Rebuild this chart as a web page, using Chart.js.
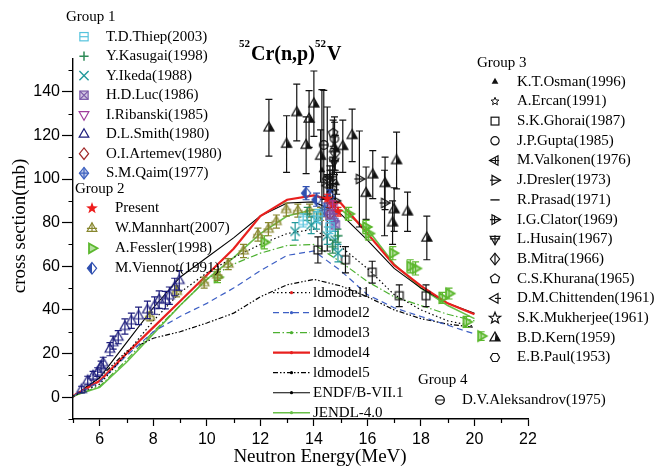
<!DOCTYPE html>
<html>
<head>
<meta charset="utf-8">
<script src="https://cdn.jsdelivr.net/npm/chart.js@4/dist/chart.umd.min.js"></script>
<style>
  html, body { margin: 0; padding: 0; background: #fff; }
</style>
</head>
<body>
<canvas id="chart" width="663" height="469"></canvas>
<script>
// ---- model curves (MeV -> mb) ----
const modelE   = [5, 6, 7, 8, 9, 10, 11, 12, 13, 14, 15, 16, 17, 18, 19, 20];
const ldmodel1 = [0.5, 6, 20, 35, 48, 57, 64, 70, 75, 77, 69, 59, 47, 40, 35, 32.5];
const ldmodel2 = [0.5, 7, 19, 30, 37, 43, 50, 58, 65, 67, 58, 47, 41, 37, 33, 29];
const ldmodel3 = [0.5, 5, 17, 30, 42, 54, 61, 66, 69.5, 70, 62, 53, 46, 42, 38, 35];
const ldmodel4 = [0.5, 7.5, 20, 32, 44, 56, 68, 83, 90.5, 92.5, 89, 75, 60.5, 51, 43, 38];
const ldmodel5 = [0.5, 9, 21, 27, 30, 34, 38.5, 46, 51.5, 54, 51, 46, 40, 36, 33.5, 32];
const endf     = [0, 9, 25, 41, 55, 64, 73, 83, 89, 89.5, 84, 72, 59, 50, 43, 38.5];
const jendl    = [0.5, 4.5, 16, 29, 42, 54, 64, 75, 83, 86, 86, 77, 61, 50, 42, 36];

// ---- measurements [E, sigma, error] ----
const thiep    = [[13.6, 81, 3], [14.15, 83, 3], [14.6, 78, 3]];
const kasugai  = [[13.75, 84, 3], [14.7, 69, 3], [14.9, 74, 3]];
const ikeda    = [[13.3, 76, 4], [13.9, 79, 4], [14.1, 81, 4], [14.5, 74, 4], [14.8, 72, 4], [14.9, 66, 4]];
const luc      = [[14.6, 83, 3], [14.8, 79, 3]];
const ribanski = [[14.7, 87, 3]];
const smith    = [[5.32, 3.5, 1.5], [5.55, 7.6, 2], [5.75, 9.8, 2], [5.92, 11.5, 2], [6.05, 14, 2.5], [6.13, 15.8, 2.5],
                  [6.38, 22, 3], [6.5, 25, 3], [6.69, 27.5, 3], [6.94, 32.4, 3.5], [7.18, 35, 3.5], [7.45, 37.3, 4],
                  [7.78, 40, 4], [8.05, 42, 4], [8.22, 44.7, 4], [8.45, 44.5, 4], [8.6, 46.5, 4], [8.8, 50.5, 4], [8.97, 53.5, 4.5]];
const artemev  = [[14.6, 84, 3]];
const qaim     = [[14.4, 86, 3], [14.75, 81, 3]];
const present  = [[14.5, 91, 2], [14.7, 88, 2], [14.9, 85, 2]];
const mannhart = [[7.87, 37, 2], [8.87, 48.5, 2.5], [9.9, 52.5, 2.5], [10.4, 56, 2.5], [10.8, 61, 2.5], [11.37, 67, 3],
                  [11.91, 74.5, 3], [12.3, 77, 3], [12.6, 80.5, 3], [12.97, 86, 3], [13.4, 85.5, 3], [13.84, 85.5, 3], [14.25, 84, 3]];
const fessler  = [[10.4, 55, 2.5], [12.15, 71, 3], [15.3, 84, 3], [15.95, 78, 3], [16.05, 75, 3], [16.95, 66, 3],
                  [17.6, 60, 3], [17.8, 59, 3], [18.8, 45.5, 2.5], [19.05, 47.5, 2.5], [19.7, 34.5, 2.5], [20.25, 28, 2]];
const viennot  = [[13.71, 93.5, 3], [14.1, 90.5, 3], [14.6, 92, 3]];
const osman    = [[14.3, 104, 37], [14.6, 95, 6], [14.85, 98, 5]];
const ercan    = [[14.7, 96, 5]];
const ghorai   = [[14.15, 67.5, 6], [15.18, 63, 6], [16.18, 57.3, 5], [17.19, 46.5, 5], [18.19, 46.5, 5]];
const gupta    = [[14.77, 118.5, 10]];
const valkonen = [[14.6, 101, 5]];
const dresler  = [[15.7, 100, 22], [16.64, 89, 15]];
const prasad   = [[14.7, 104, 6]];
const clator   = [[14.8, 90, 5]];
const husain   = [[14.75, 108, 6]];
const mitra    = [[14.8, 112, 8]];
const khurana  = [[14.72, 121, 6]];
const chittenden = [[14.5, 97, 5]];
const mukherjee  = [[14.6, 99, 5]];
const kern     = [[12.32, 123.5, 13], [12.98, 116, 13], [13.36, 130.5, 13], [13.71, 115.5, 13], [13.82, 127.5, 13],
                  [14.0, 134.5, 15], [14.25, 110.5, 12], [14.77, 114, 12], [15.08, 115, 12], [15.43, 120, 12],
                  [15.95, 93.5, 12], [16.2, 102, 11], [16.66, 98, 12], [17.09, 108.5, 13], [16.94, 80, 10],
                  [17.0, 86, 10], [17.5, 85, 9], [18.22, 73, 10]];
const paul     = [[14.5, 100, 33]];
const aleksandrov = [[14.37, 115.6, 25]];

// ---- series descriptors (group, label, data, marker, colour) ----
const groups = [
  { title: 'Group 1', tx: 66, ty: 17, mx: 84, lx: 106, y0: 36.7, dy: 19.5, items: [
    ['T.D.Thiep(2003)', thiep, 'sqH', '#55c3dd'],
    ['Y.Kasugai(1998)', kasugai, 'plus', '#2e8b57'],
    ['Y.Ikeda(1988)', ikeda, 'x', '#23999b'],
    ['H.D.Luc(1986)', luc, 'sqX', '#7a58a8'],
    ['I.Ribanski(1985)', ribanski, 'triD', '#a03c9c'],
    ['D.L.Smith(1980)', smith, 'tri', '#1d1d7c'],
    ['O.I.Artemev(1980)', artemev, 'diam', '#a02828'],
    ['S.M.Qaim(1977)', qaim, 'diamPlus', '#3e62c0'] ] },
  { title: 'Group 2', tx: 75, ty: 189, mx: 92, lx: 115, y0: 208.3, dy: 20, items: [
    ['Present', present, 'star', '#ee1c1c'],
    ['W.Mannhart(2007)', mannhart, 'triPlus', '#87862e'],
    ['A.Fessler(1998)', fessler, 'triR', '#5cb82e'],
    ['M.Viennot(1991)', viennot, 'diamHalf', '#2f4fb0'] ] },
  { title: 'Group 3', tx: 477, ty: 63, mx: 495, lx: 517, y0: 81.7, dy: 19.7, items: [
    ['K.T.Osman(1996)', osman, 'triSmall', '#111'],
    ['A.Ercan(1991)', ercan, 'starSmall', '#111'],
    ['S.K.Ghorai(1987)', ghorai, 'sq', '#111'],
    ['J.P.Gupta(1985)', gupta, 'circ', '#111'],
    ['M.Valkonen(1976)', valkonen, 'triLPlus', '#111'],
    ['J.Dresler(1973)', dresler, 'triRPlus', '#111'],
    ['R.Prasad(1971)', prasad, 'dash', '#111'],
    ['I.G.Clator(1969)', clator, 'triRBar', '#111'],
    ['L.Husain(1967)', husain, 'triDPlus', '#111'],
    ['B.Mitra(1966)', mitra, 'diamV', '#111'],
    ['C.S.Khurana(1965)', khurana, 'pent', '#111'],
    ['D.M.Chittenden(1961)', chittenden, 'triLDash', '#111'],
    ['S.K.Mukherjee(1961)', mukherjee, 'starOpen', '#111'],
    ['B.D.Kern(1959)', kern, 'triHalf', '#111'],
    ['E.B.Paul(1953)', paul, 'hex', '#111'] ] },
  { title: 'Group 4', tx: 418, ty: 380.5, mx: 440, lx: 462, y0: 400, dy: 20, items: [
    ['D.V.Aleksandrov(1975)', aleksandrov, 'circH', '#111'] ] }
];

const lineSeries = [
  ['ldmodel1', ldmodel1, '#000', 1.2, [1.5, 2.5], '#e02020'],
  ['ldmodel2', ldmodel2, '#3d5fc4', 1.2, [6, 4], '#3d5fc4'],
  ['ldmodel3', ldmodel3, '#4cb030', 1.2, [7, 2.5, 1.5, 2.5], '#4cb030'],
  ['ldmodel4', ldmodel4, '#e8201e', 2.2, [], '#e8201e'],
  ['ldmodel5', ldmodel5, '#000', 1.2, [5, 2, 1.5, 2, 1.5, 2], '#000'],
  ['ENDF/B-VII.1', endf, '#000', 1.1, [], '#000'],
  ['JENDL-4.0', jendl, '#68c048', 1.6, [], '#68c048']
];

// ---- marker drawing ----
function poly(ctx, pts, s) {
  ctx.beginPath();
  pts.forEach((p, i) => i ? ctx.lineTo(p[0] * s, p[1] * s) : ctx.moveTo(p[0] * s, p[1] * s));
  ctx.closePath();
}
const TRI_U = [[0, -1.2], [1.05, 0.65], [-1.05, 0.65]];
const rot = (pts, k) => pts.map(p => { let [x, y] = p; for (let i = 0; i < k; i++) [x, y] = [-y, x]; return [x, y]; });
const TRI_R = rot(TRI_U, 1), TRI_D = rot(TRI_U, 2), TRI_L = rot(TRI_U, 3);
const DIAM = [[0, -1.25], [1, 0], [0, 1.25], [-1, 0]];
function starPts(n, r1, r2) {
  const p = [];
  for (let i = 0; i < n * 2; i++) {
    const a = -Math.PI / 2 + i * Math.PI / n, r = i % 2 ? r2 : r1;
    p.push([Math.cos(a) * r, Math.sin(a) * r]);
  }
  return p;
}
function ngon(n, r, a0) {
  const p = [];
  for (let i = 0; i < n; i++) { const a = a0 + i * 2 * Math.PI / n; p.push([Math.cos(a) * r, Math.sin(a) * r]); }
  return p;
}
function seg(ctx, x1, y1, x2, y2) { ctx.moveTo(x1, y1); ctx.lineTo(x2, y2); }

function drawMarker(ctx, kind, x, y, col) {
  const s = 4.6;
  ctx.save();
  ctx.translate(x, y);
  ctx.strokeStyle = col; ctx.fillStyle = col; ctx.lineWidth = 1.2;
  ctx.lineJoin = 'miter';
  switch (kind) {
    case 'sqH': ctx.strokeRect(-s * 0.9, -s * 0.9, s * 1.8, s * 1.8); ctx.beginPath(); seg(ctx, -s * 0.9, 0, s * 0.9, 0); ctx.stroke(); break;
    case 'plus': ctx.lineWidth = 1.5; ctx.beginPath(); seg(ctx, -s, 0, s, 0); seg(ctx, 0, -s, 0, s); ctx.stroke(); break;
    case 'x': ctx.lineWidth = 1.4; ctx.beginPath(); seg(ctx, -s, -s, s, s); seg(ctx, -s, s, s, -s); ctx.stroke(); break;
    case 'sqX':
      ctx.globalAlpha = 0.35; ctx.fillRect(-s * 0.9, -s * 0.9, s * 1.8, s * 1.8); ctx.globalAlpha = 1;
      ctx.strokeRect(-s * 0.9, -s * 0.9, s * 1.8, s * 1.8); ctx.beginPath();
      seg(ctx, -s * 0.9, -s * 0.9, s * 0.9, s * 0.9); seg(ctx, -s * 0.9, s * 0.9, s * 0.9, -s * 0.9); ctx.stroke(); break;
    case 'triD': poly(ctx, TRI_D, s); ctx.stroke(); break;
    case 'tri': poly(ctx, TRI_U, s); ctx.stroke(); break;
    case 'diam': poly(ctx, DIAM, s); ctx.stroke(); break;
    case 'diamPlus':
      poly(ctx, DIAM, s); ctx.globalAlpha = 0.35; ctx.fill(); ctx.globalAlpha = 1; ctx.stroke();
      ctx.beginPath(); seg(ctx, -s, 0, s, 0); seg(ctx, 0, -s * 1.25, 0, s * 1.25); ctx.stroke(); break;
    case 'star': poly(ctx, starPts(5, 1.35, 0.55), s); ctx.fill(); break;
    case 'triPlus':
      poly(ctx, TRI_U, s); ctx.stroke(); ctx.beginPath();
      seg(ctx, 0, -s * 1.2, 0, s * 0.65); seg(ctx, -s * 1.1, 0, s * 1.1, 0); ctx.stroke(); break;
    case 'triR':
      poly(ctx, TRI_R, s); ctx.globalAlpha = 0.45; ctx.fill(); ctx.globalAlpha = 1; ctx.lineWidth = 1.8; ctx.stroke(); break;
    case 'diamHalf':
      poly(ctx, DIAM, s); ctx.stroke();
      ctx.beginPath(); ctx.moveTo(0, -s * 1.25); ctx.lineTo(-s, 0); ctx.lineTo(0, s * 1.25); ctx.closePath(); ctx.fill(); break;
    case 'triSmall': poly(ctx, TRI_U, s * 0.7); ctx.fill(); break;
    case 'starSmall': ctx.lineWidth = 1; poly(ctx, starPts(5, 0.9, 0.4), s); ctx.stroke(); break;
    case 'sq': ctx.strokeRect(-s * 0.85, -s * 0.85, s * 1.7, s * 1.7); break;
    case 'circ': ctx.beginPath(); ctx.arc(0, 0, s * 0.9, 0, Math.PI * 2); ctx.stroke(); break;
    case 'triLPlus':
      poly(ctx, TRI_L, s); ctx.stroke(); ctx.beginPath(); seg(ctx, -s * 1.2, 0, s * 0.9, 0); seg(ctx, s * 0.1, -s * 0.7, s * 0.1, s * 0.7); ctx.stroke(); break;
    case 'triRPlus':
      poly(ctx, TRI_R, s); ctx.stroke(); ctx.beginPath(); seg(ctx, -s * 1.1, 0, s * 1.2, 0); ctx.stroke(); break;
    case 'dash': ctx.lineWidth = 1.4; ctx.beginPath(); seg(ctx, -s, 0, s, 0); ctx.stroke(); break;
    case 'triRBar':
      poly(ctx, TRI_R, s); ctx.stroke(); ctx.beginPath(); seg(ctx, -s * 1.1, 0, s * 1.2, 0); seg(ctx, -s * 0.1, -s * 0.9, -s * 0.1, s * 0.9); ctx.stroke(); break;
    case 'triDPlus':
      poly(ctx, TRI_D, s); ctx.stroke(); ctx.beginPath(); seg(ctx, 0, -s * 0.9, 0, s * 1.2); seg(ctx, -s * 1.1, -s * 0.1, s * 1.1, -s * 0.1); ctx.stroke(); break;
    case 'diamV': poly(ctx, DIAM, s); ctx.stroke(); ctx.beginPath(); seg(ctx, 0, -s * 1.25, 0, s * 1.25); ctx.stroke(); break;
    case 'pent': poly(ctx, ngon(5, 1.05, -Math.PI / 2), s); ctx.stroke(); break;
    case 'triLDash': poly(ctx, TRI_L, s); ctx.stroke(); ctx.beginPath(); seg(ctx, 0, 0, s * 1.3, 0); ctx.stroke(); break;
    case 'starOpen': poly(ctx, starPts(5, 1.3, 0.55), s); ctx.stroke(); break;
    case 'triHalf':
      poly(ctx, TRI_U, s * 1.05); ctx.stroke();
      ctx.beginPath(); ctx.moveTo(s * 0.12, -s * 1.1); ctx.lineTo(s * 1.1, s * 0.68); ctx.lineTo(-s * 0.05, s * 0.68); ctx.closePath(); ctx.fill(); break;
    case 'hex': poly(ctx, ngon(6, 1.0, 0), s); ctx.stroke(); break;
    case 'circH': ctx.beginPath(); ctx.arc(0, 0, s * 0.95, 0, Math.PI * 2); seg(ctx, -s * 0.95, 0, s * 0.95, 0); ctx.stroke(); break;
  }
  ctx.restore();
}

function markerCanvas(kind, col) {
  const c = document.createElement('canvas');
  c.width = 20; c.height = 20;
  drawMarker(c.getContext('2d'), kind, 10, 10, col);
  return c;
}

// ---- datasets ----
const datasets = [];
lineSeries.forEach(([label, vals, col, w, dash]) => {
  datasets.push({
    label, data: modelE.map((e, i) => ({ x: e, y: vals[i] })),
    showLine: true, borderColor: col, borderWidth: w, borderDash: dash,
    pointRadius: 0, tension: 0, fill: false, order: 10
  });
});
groups.forEach(g => g.items.forEach(([label, pts, kind, col]) => {
  datasets.push({
    label, data: pts.map(p => ({ x: p[0], y: p[1] })), errs: pts.map(p => p[2]), errColor: col,
    showLine: false, pointStyle: markerCanvas(kind, col), pointRadius: 5, order: 1
  });
}));

// ---- plugins ----
const errorBars = {
  id: 'errorBars',
  beforeDatasetDraw(chart, args) {
    const ds = chart.data.datasets[args.index];
    if (!ds.errs) return;
    const ctx = chart.ctx, ys = chart.scales.y, cap = 3.5;
    ctx.save();
    ctx.strokeStyle = ds.errColor; ctx.lineWidth = 1.2;
    ctx.beginPath();
    args.meta.data.forEach((pt, i) => {
      const e = ds.errs[i], v = ds.data[i].y;
      const y1 = ys.getPixelForValue(v + e), y2 = ys.getPixelForValue(v - e);
      seg(ctx, pt.x, y1, pt.x, y2);
      seg(ctx, pt.x - cap, y1, pt.x + cap, y1);
      seg(ctx, pt.x - cap, y2, pt.x + cap, y2);
    });
    ctx.stroke();
    ctx.restore();
  }
};

const decorations = {
  id: 'decorations',
  afterDraw(chart) {
    const ctx = chart.ctx, xs = chart.scales.x, ys = chart.scales.y;
    const area = chart.chartArea;
    ctx.save();
    // minor ticks
    ctx.strokeStyle = '#000'; ctx.lineWidth = 1.2; ctx.beginPath();
    for (let v = 5; v <= 22; v += 1) if (v % 2) { const px = Math.round(xs.getPixelForValue(v)) + 0.5; seg(ctx, px, area.bottom, px, area.bottom + 4); }
    for (let v = -10; v <= 150; v += 10) if (v % 20) { const py = Math.round(ys.getPixelForValue(v)) + 0.5; seg(ctx, area.left - 4.5, py, area.left, py); }
    ctx.stroke();

    // title
    ctx.fillStyle = '#000'; ctx.textBaseline = 'alphabetic'; ctx.textAlign = 'left';
    let x = 239;
    const sup = 'bold 11px "Liberation Serif"', big = 'bold 20px "Liberation Serif"';
    ctx.font = sup; ctx.fillText('52', x, 47); x += ctx.measureText('52').width + 1;
    ctx.font = big; ctx.fillText('Cr(n,p)', x, 60); x += ctx.measureText('Cr(n,p)').width;
    ctx.font = sup; ctx.fillText('52', x, 47); x += ctx.measureText('52').width + 1;
    ctx.font = big; ctx.fillText('V', x, 60);

    // axis titles
    ctx.font = '19px "Liberation Serif"'; ctx.textAlign = 'center'; ctx.textBaseline = 'middle';
    ctx.fillText('Neutron Energy(MeV)', 320, 457);
    ctx.save(); ctx.translate(20, 226); ctx.rotate(-Math.PI / 2); ctx.fillText('cross section(mb)', 0, 0); ctx.restore();

    // grouped marker legends
    ctx.font = '15px "Liberation Serif"'; ctx.textAlign = 'left'; ctx.textBaseline = 'middle';
    groups.forEach(g => {
      ctx.fillStyle = '#000'; ctx.fillText(g.title, g.tx, g.ty);
      g.items.forEach(([label, , kind, col], i) => {
        const y = g.y0 + i * g.dy;
        drawMarker(ctx, kind, g.mx, y, col);
        ctx.fillStyle = '#000'; ctx.fillText(label, g.lx, y);
      });
    });

    // line legend
    lineSeries.forEach(([label, , col, w, dash, dot], i) => {
      const y = 292.7 + i * 20;
      ctx.strokeStyle = col; ctx.lineWidth = w; ctx.setLineDash(dash);
      ctx.beginPath(); seg(ctx, 273, y, 310, y); ctx.stroke();
      ctx.setLineDash([]);
      ctx.fillStyle = dot; ctx.beginPath(); ctx.arc(291.5, y, 1.6, 0, Math.PI * 2); ctx.fill();
      ctx.fillStyle = '#000'; ctx.fillText(label, 313, y);
    });
    ctx.restore();
  }
};

const tickFont = { family: '"Liberation Sans", Arial, sans-serif', size: 16 };

new Chart(document.getElementById('chart'), {
  type: 'scatter',
  data: { datasets },
  options: {
    responsive: false,
    animation: false,
    layout: { padding: { left: 0, right: 135, top: 59, bottom: 0 } },
    plugins: { legend: { display: false }, tooltip: { enabled: false }, title: { display: false } },
    scales: {
      x: {
        type: 'linear', min: 5, max: 22,
        grid: { drawOnChartArea: false, tickLength: 7, tickColor: '#000', tickWidth: 1.2 },
        border: { color: '#000', width: 1.4 },
        ticks: { stepSize: 2, includeBounds: false, color: '#000', font: tickFont, padding: 4, maxRotation: 0 },
        afterFit(scale) { scale.height = 50; }
      },
      y: {
        type: 'linear', min: -10, max: 155,
        grid: { drawOnChartArea: false, tickLength: 11, tickColor: '#000', tickWidth: 1.2 },
        border: { color: '#000', width: 1.4 },
        ticks: { stepSize: 20, includeBounds: false, color: '#000', font: tickFont, padding: 2 },
        afterFit(scale) { scale.width = 73; }
      }
    }
  },
  plugins: [errorBars, decorations]
});
</script>
</body>
</html>
